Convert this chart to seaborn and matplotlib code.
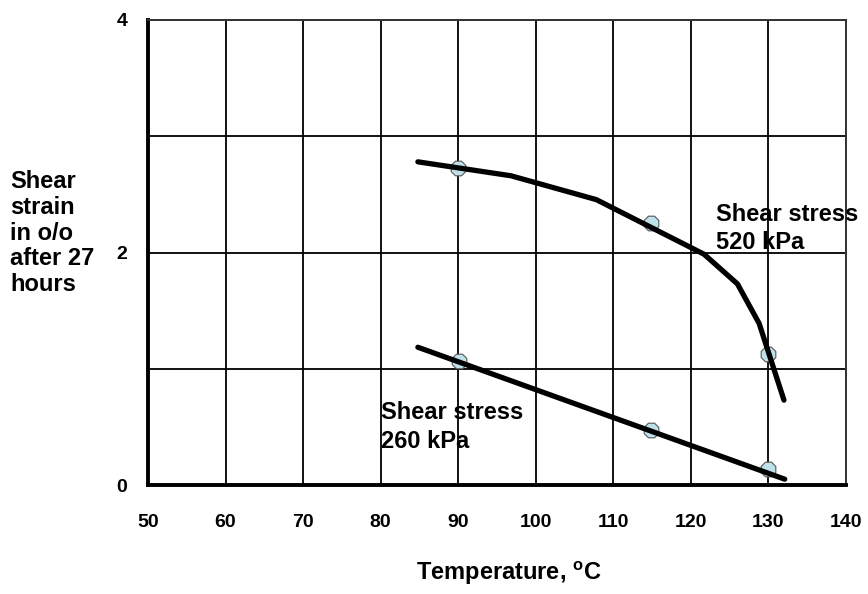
import matplotlib
matplotlib.use("Agg")
import matplotlib.pyplot as plt
import seaborn as sns
import pandas as pd


# curve through the 520 kPa results (hand-drawn trend line)
curve_520_temp = [84.8, 96.8, 107.8, 121.7, 126.0, 128.8, 132.0]
curve_520_strain = [2.78, 2.66, 2.455, 1.985, 1.73, 1.39, 0.73]
points_520_temp = [90.0, 114.8, 129.9]
points_520_strain = [2.73, 2.255, 1.13]

# straight trend for 260 kPa
curve_260_temp = [84.8, 132.1]
curve_260_strain = [1.185, 0.05]
points_260_temp = [90.1, 114.8, 130.0]
points_260_strain = [1.07, 0.47, 0.14]

x_ticks = [50, 60, 70, 80, 90, 100, 110, 120, 130, 140]
y_grid = [0, 1, 2, 3, 4]
y_labels = ["0", "", "2", "", "4"]

sns.set_theme(style="white")
plt.rcParams["font.family"] = ["Liberation Sans", "DejaVu Sans"]
plt.rcParams["font.weight"] = "bold"
plt.rcParams["text.color"] = "black"
plt.rcParams["xtick.color"] = "black"
plt.rcParams["ytick.color"] = "black"
plt.rcParams["mathtext.fontset"] = "custom"
plt.rcParams["mathtext.bf"] = "Liberation Sans:bold"
plt.rcParams["mathtext.rm"] = "Liberation Sans:bold"

curves = pd.concat(
    [
        pd.DataFrame({"Temp": curve_520_temp, "Strain": curve_520_strain, "Stress": "520"}),
        pd.DataFrame({"Temp": curve_260_temp, "Strain": curve_260_strain, "Stress": "260"}),
    ]
)
points = pd.concat(
    [
        pd.DataFrame({"Temp": points_520_temp, "Strain": points_520_strain, "Stress": "520"}),
        pd.DataFrame({"Temp": points_260_temp, "Strain": points_260_strain, "Stress": "260"}),
    ]
)

fig = plt.figure(figsize=(8.68, 5.94), dpi=100)
ax = fig.add_axes([148 / 868, 1 - 485 / 594, (846 - 148) / 868, (485 - 20) / 594])

sns.scatterplot(
    data=points, x="Temp", y="Strain", ax=ax, marker="8", s=130,
    color="#bfe2ea", edgecolor="#555555", linewidth=0.8, zorder=3, legend=False,
)
sns.lineplot(
    data=curves, x="Temp", y="Strain", units="Stress", estimator=None, sort=False,
    color="black", linewidth=3.8, ax=ax, zorder=4, legend=False,
)

ax.set_xlim(50, 140)
ax.set_ylim(0, 4)
ax.set_xticks(x_ticks)
ax.set_xticklabels([str(t) for t in x_ticks], fontsize=14, fontweight="bold", color="black")
ax.set_yticks(y_grid)
ax.set_yticklabels(y_labels, fontsize=14, fontweight="bold", color="black")
ax.tick_params(axis="x", length=0, pad=21)
ax.tick_params(axis="y", length=0, pad=15)
ax.grid(True, color="black", linewidth=1.3)
ax.set_axisbelow(True)
ax.set_xlabel("")
ax.set_ylabel("")

for side in ["left", "bottom"]:
    ax.spines[side].set_linewidth(2.8)
    ax.spines[side].set_color("black")
for side in ["top", "right"]:
    ax.spines[side].set_linewidth(1.4)
    ax.spines[side].set_color("#333333")

ax.text(123.3, 2.43, "Shear stress\n520 kPa", fontsize=17, fontweight="bold",
        va="top", ha="left", linespacing=1.3, zorder=5, clip_on=False)
ax.text(80.1, 0.72, "Shear stress\n260 kPa", fontsize=17, fontweight="bold",
        va="top", ha="left", linespacing=1.3, zorder=5)

fig.text(10 / 868, 1 - 233 / 594, "Shear\nstrain\nin o/o\nafter 27\nhours",
         fontsize=17, fontweight="bold", ha="left", va="center", linespacing=1.15)
fig.text(509 / 868, 1 - 573 / 594, r"Temperature, $^{\mathbf{o}}$C",
         fontsize=17, fontweight="bold", ha="center", va="center")

fig.savefig("out.png", dpi=100)
